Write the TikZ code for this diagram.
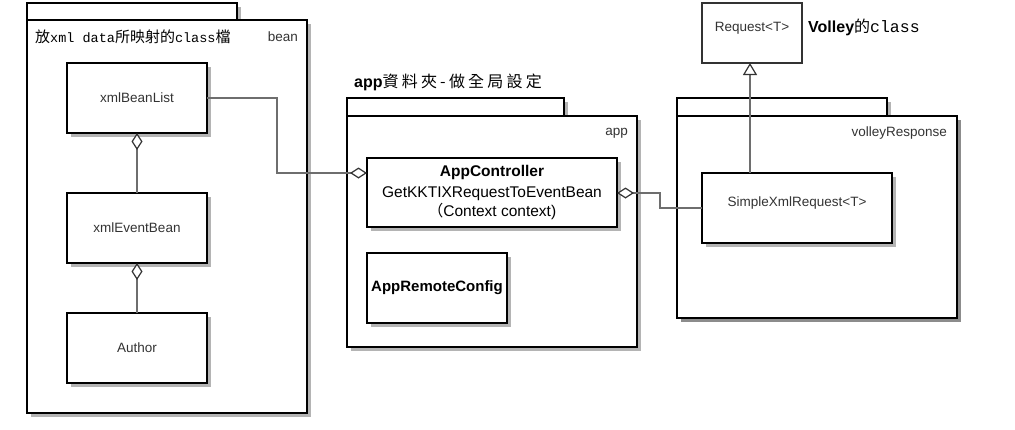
\documentclass[tikz,border=0pt]{standalone}
\usepackage{fontspec}
\setmainfont{Liberation Sans}
\newfontfamily\cjk{Noto Sans CJK TC}
\newfontfamily\cjksp{Noto Sans CJK TC}[LetterSpace=20]
\newfontfamily\lmono{Liberation Mono}
\usetikzlibrary{arrows.meta,shadows}
\definecolor{txt}{HTML}{333333}
\definecolor{conn}{HTML}{6E6E6E}
\definecolor{shd}{HTML}{B4B4B4}
\definecolor{shdk}{HTML}{8C8C8C}
\tikzset{
  box/.style={draw=black, line width=2pt, fill=white, inner sep=0pt, outer sep=0pt,
    drop shadow={shadow xshift=4pt, shadow yshift=-4pt, fill=shd, opacity=1}},
  cls/.style={box, text=txt, align=center, font=\fontsize{13.5}{16}\selectfont},
  upper/.style={text height=10pt, text depth=14pt},
  pkglabel/.style={text=txt, inner sep=0pt, font=\fontsize{13.5}{16}\selectfont},
  assoc/.style={draw=conn, line width=1.4pt},
  agg/.style={assoc, -{Diamond[length=17pt,width=11pt,fill=white,color=txt,line width=1.2pt]}},
  inh/.style={assoc, -{Triangle[length=12pt,width=14pt,fill=white,color=txt,line width=1.2pt]}},
  titlefont/.style={inner sep=0pt, text=black}
}
\begin{document}
\begin{tikzpicture}[x=1pt,y=-1pt]
\useasboundingbox (0,0) rectangle (1015,429);
\fill[white] (0,0) rectangle (1015,429);

% ---------- bean package ----------
\node[box, minimum width=210pt, minimum height=17pt, anchor=north west] (beantab) at (27,3) {};
\node[box, minimum width=280pt, minimum height=393pt, anchor=north west] (beanpkg) at (27,20) {};
\node[pkglabel, anchor=east] (beanlbl) at (298,37) {bean};
\node[titlefont, anchor=west] (beantitle) at (35,37)
  {{\cjk\fontsize{15}{18}\selectfont 放}{\lmono\fontsize{13.5}{16}\selectfont xml data}{\cjk\fontsize{15}{18}\selectfont 所映射的}{\lmono\fontsize{13.5}{16}\selectfont class}{\cjk\fontsize{15}{18}\selectfont 檔}};

\node[cls, minimum width=140pt, minimum height=70pt] (beanlist) at (137,98) {xmlBeanList};
\node[cls, minimum width=140pt, minimum height=70pt] (eventbean) at (137,228) {xmlEventBean};
\node[cls, minimum width=140pt, minimum height=70pt] (author) at (137,348) {Author};

% ---------- app package ----------
\node[titlefont, anchor=west] (apptitle) at (354,82)
  {{\bfseries\fontsize{16}{19}\selectfont app}{\cjksp\fontsize{16}{19}\selectfont 資料夾-做全局設定}};
\node[box, minimum width=217pt, minimum height=18pt, anchor=north west] (apptab) at (347,98) {};
\node[box, minimum width=290pt, minimum height=231pt, anchor=north west] (apppkg) at (347,116) {};
\node[pkglabel, anchor=east] (applbl) at (628,133) {app};

\node[cls, text=black, minimum width=250pt, minimum height=69pt, font=\fontsize{15.5}{19}\selectfont] (appctrl) at (492,192.5)
  {\textbf{AppController}\\[2pt]GetKKTIXRequestToEventBean\\{\cjk （}Context context)};
\node[cls, text=black, minimum width=140pt, minimum height=70pt, font=\bfseries\fontsize{15}{18}\selectfont] (remote) at (437,288) {AppRemoteConfig};

% ---------- volleyResponse package ----------
\node[box, minimum width=210pt, minimum height=18pt, anchor=north west] (voltab) at (677,98) {};
\node[box, minimum width=280pt, minimum height=202pt, anchor=north west,
  drop shadow={shadow xshift=4pt, shadow yshift=-4pt, fill=shdk, opacity=1}] (volpkg) at (677,116) {};
\node[pkglabel, anchor=east] (vollbl) at (947,133) {volleyResponse};

\node[cls, upper, minimum width=190pt, minimum height=70pt] (sxr) at (797,208) {SimpleXmlRequest<T>};

% ---------- Volley ----------
\node[draw=txt, line width=1.8pt, fill=white, inner sep=0pt, outer sep=0pt, text=txt, upper,
  font=\fontsize{13.5}{16}\selectfont, minimum width=100pt, minimum height=60pt] (req) at (752,33) {Request<T>};
\node[titlefont, anchor=west] (voltitle) at (808,27)
  {{\bfseries\fontsize{16}{19}\selectfont Volley}{\cjk\fontsize{16}{19}\selectfont 的}{\lmono\fontsize{16.5}{19}\selectfont class}};

% ---------- connectors ----------
\draw[agg] (eventbean.north) -- (beanlist.south);
\draw[agg] (author.north) -- (eventbean.south);
\coordinate (c1) at (277,98);
\coordinate (c2) at (277,173);
\draw[agg] (beanlist.east |- c1) -- (c1) -- (c2) -- (appctrl.west |- c2);
\coordinate (d1) at (660,193);
\coordinate (d2) at (660,208);
\draw[agg] (sxr.west) -- (d2) -- (d1) -- (appctrl.east |- d1);
\coordinate (t1) at (750,173);
\draw[inh] (sxr.north -| t1) -- (req.south -| t1);
\end{tikzpicture}
\end{document}
